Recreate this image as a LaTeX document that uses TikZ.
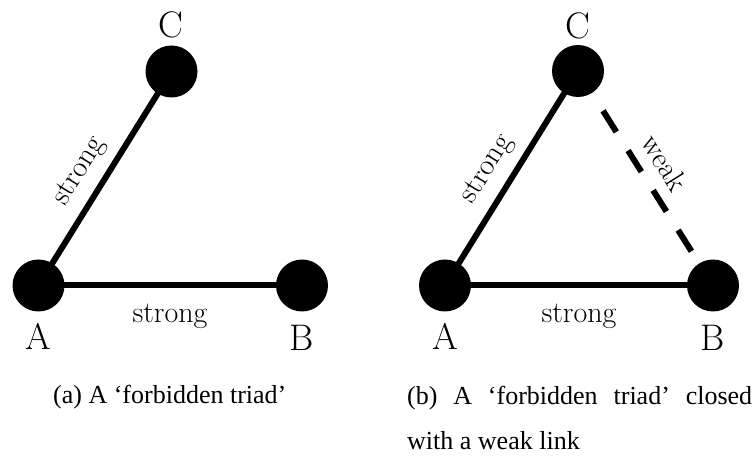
\documentclass[tikz,border=0pt]{standalone}
\usepackage{fontspec}
\newfontfamily\capfont{Liberation Serif}
\usetikzlibrary{calc}
\begin{document}
\begin{tikzpicture}[x=1pt,y=1pt,
  vert/.style={circle,fill=black,minimum size=52pt,inner sep=0pt},
  vlabel/.style={font=\fontsize{37}{44}\selectfont,inner sep=0pt},
  elabel/.style={font=\fontsize{30}{35}\selectfont,inner sep=0pt},
  edge/.style={line width=6pt},
  weakedge/.style={line width=6pt,dash pattern=on 25pt off 22pt},
  caption/.style={font=\capfont\fontsize{26}{30}\selectfont,inner sep=0pt,anchor=base west}]
\useasboundingbox (0,0) rectangle (753,457);
% left panel
\node[vert] (A1) at (38.5,171.5) {};
\node[vert] (B1) at (302,171.5) {};
\node[vert] (C1) at (171.5,385.5) {};
\draw[edge] (A1.center) -- (C1.center);
\draw[edge] (A1.center) -- (B1.center);
\node[vlabel] (lA1) at (38.5,120.5) {A};
\node[vlabel] (lB1) at (302,119.5) {B};
\node[vlabel] (lC1) at (171,432) {C};
\node[elabel] (s1) at (170,140.5) {strong};
\node[elabel,rotate=58.1] (s2) at ($(A1)!0.47!(C1)!25pt!90:(C1)$) {strong};
% right panel
\node[vert] (A2) at (445,171.5) {};
\node[vert] (B2) at (713,171.5) {};
\node[vert] (C2) at (578,386) {};
\draw[edge] (A2.center) -- (C2.center);
\draw[edge] (A2.center) -- (B2.center);
\draw[weakedge] (C2.center) -- (B2.center);
\node[vlabel] (lA2) at (445,120.5) {A};
\node[vlabel] (lB2) at (712.5,119.5) {B};
\node[vlabel] (lC2) at (578,431) {C};
\node[elabel] (s3) at (579,140.5) {strong};
\node[elabel,rotate=58.1] (s4) at ($(A2)!0.48!(C2)!25.3pt!90:(C2)$) {strong};
\node[elabel,rotate=-57.9] (w1) at ($(C2)!0.49!(B2)!25pt!90:(B2)$) {weak};
% captions
\node[caption] (capa) at (53,53) {(a) A ‘forbidden triad’};
\node[caption] (capb1) at (407,52) {\makebox[345pt][s]{(b) A ‘forbidden triad’ closed}};
\node[caption] (capb2) at (407,7) {with a weak link};
\end{tikzpicture}
\end{document}
